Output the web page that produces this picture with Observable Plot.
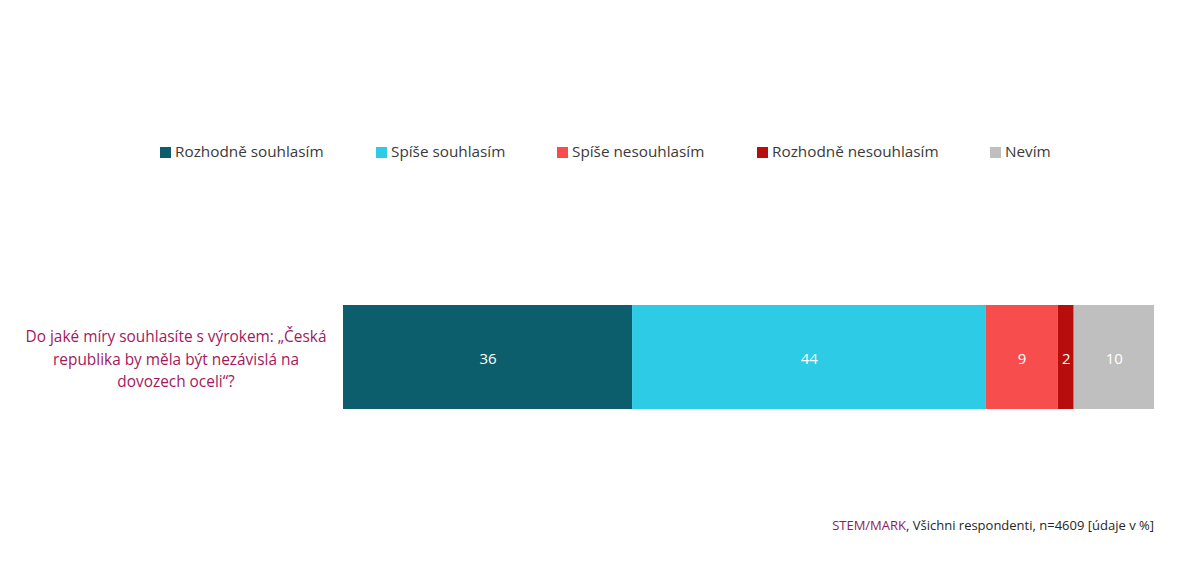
<!DOCTYPE html>
<html>
<head>
<meta charset="utf-8">
<script src="https://cdn.jsdelivr.net/npm/d3@7"></script>
<script src="https://cdn.jsdelivr.net/npm/@observablehq/plot@0.6"></script>
<style>
  html, body { margin: 0; padding: 0; background: #fff; }
  body { width: 1196px; height: 572px; overflow: hidden; font-family: "Open Sans", "Noto Sans", sans-serif; }
  #wrap { position: relative; width: 1196px; height: 572px; }
  #legend { position: absolute; top: 140px; left: 0; width: 1196px; height: 22px; font-size: 15.3px; color: #3a3a3a; }
  .item { position: absolute; top: 0; white-space: nowrap; line-height: 22px; }
  .sw { display: inline-block; width: 11px; height: 11px; margin-right: 4px; vertical-align: -1px; }
  #chart { position: absolute; top: 255px; left: 0; }
  #caption { position: absolute; top: 516px; right: 42px; font-size: 13px; color: #262626; white-space: nowrap; }
  #caption .src { color: #8e1b5c; }
</style>
</head>
<body>
<div id="wrap">
  <div id="legend"></div>
  <div id="chart"></div>
  <div id="caption"><span class="src">STEM/MARK</span>, Všichni respondenti, n=4609 [údaje v %]</div>
</div>
<script>
const categories = ["Rozhodně souhlasím", "Spíše souhlasím", "Spíše nesouhlasím", "Rozhodně nesouhlasím", "Nevím"];
const values = [36, 44, 9, 2, 10];
const colors = ["#0d5e6c", "#2ecbe7", "#f74d4d", "#b70d0d", "#bfbfbf"];
const question = "Do jaké míry souhlasíte s výrokem: „Česká\nrepublika by měla být nezávislá na\ndovozech oceli“?";
const legendLefts = [160, 376, 557, 757, 990];

const data = categories.map((c, i) => ({question, answer: c, value: values[i]}));
const total = d3.sum(values);

const legend = document.getElementById("legend");
categories.forEach((c, i) => {
  const it = document.createElement("div");
  it.className = "item";
  it.style.left = legendLefts[i] + "px";
  it.innerHTML = `<span class="sw" style="background:${colors[i]}"></span>${c}`;
  legend.appendChild(it);
});

const chart = Plot.plot({
  width: 1196,
  height: 210,
  marginLeft: 343,
  marginRight: 42,
  marginTop: 50,
  marginBottom: 56,
  style: {fontFamily: "'Open Sans', 'Noto Sans', sans-serif", background: "transparent"},
  x: {domain: [0, total], axis: null},
  y: {domain: [question], axis: null, padding: 0},
  color: {domain: categories, range: colors},
  marks: [
    Plot.barX(data, Plot.stackX({x: "value", y: "question", fill: "answer"})),
    Plot.text(data, Plot.stackX({x: "value", y: "question", text: d => String(d.value), fill: "white", fontSize: 15, dy: 1.5})),
    Plot.text([question], {y: d => d, frameAnchor: "left", dx: -167.5, textAnchor: "middle", lineHeight: 1.45, fill: "#a3195b", fontSize: 15.4, text: d => d})
  ]
});
document.getElementById("chart").appendChild(chart);
</script>
</body>
</html>
